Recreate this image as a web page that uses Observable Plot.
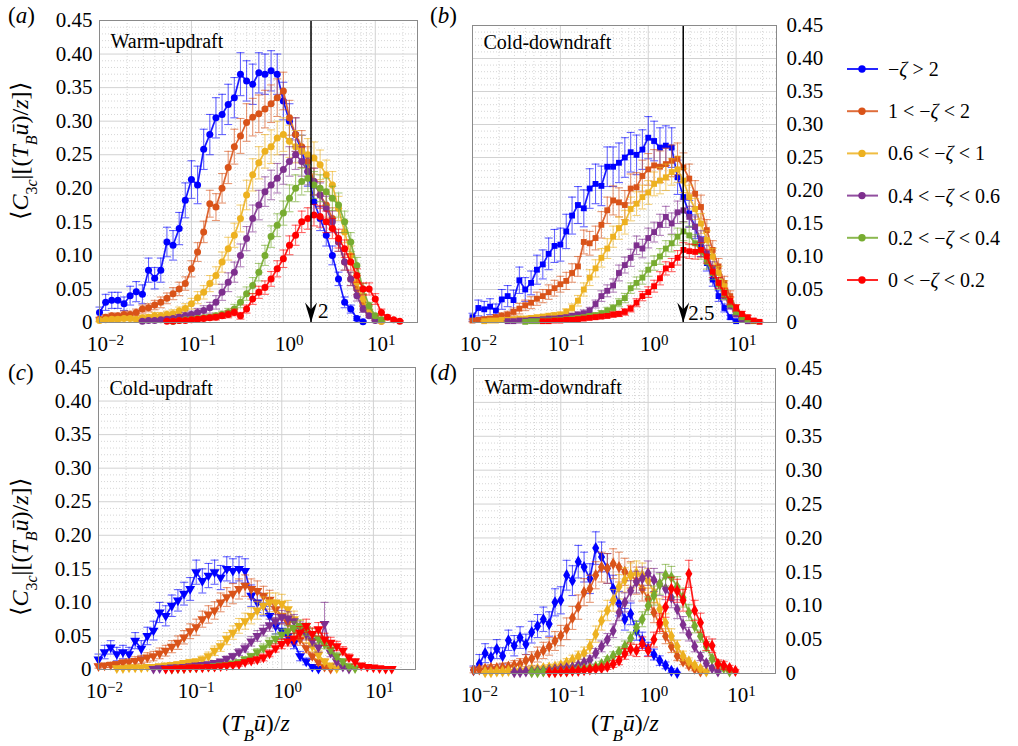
<!DOCTYPE html>
<html><head><meta charset="utf-8">
<script src="https://cdn.jsdelivr.net/npm/d3@7"></script>
<script src="https://cdn.jsdelivr.net/npm/@observablehq/plot@0.6"></script>
<style>
body{margin:0;background:#fff;overflow:hidden;}
#wrap{position:relative;width:1018px;height:746px;}
#wrap svg{position:absolute;left:0;top:0;}
</style></head><body><div id="wrap"></div>
<script>
// shared log-spaced bin centres (T_B u / z)
const xs = [0.01,0.01166,0.01359,0.01585,0.01848,0.02154,0.02512,0.02929,0.03415,0.03981,
0.04642,0.05412,0.0631,0.07356,0.08577,0.1,0.1166,0.1359,0.1585,0.1848,
0.2154,0.2512,0.2929,0.3415,0.3981,0.4642,0.5412,0.631,0.7356,0.8577,
1,1.166,1.359,1.585,1.848,2.154,2.512,2.929,3.415,3.981,
4.642,5.412,6.31,7.356,8.577,10,11.66,13.59,15.85,18.48,21.54];

const seriesLabels = ["−ζ > 2","1 < −ζ < 2","0.6 < −ζ < 1","0.4 < −ζ < 0.6","0.2 < −ζ < 0.4","0 < −ζ < 0.2"];
const seriesColors = ["#0000ff","#d95319","#edb120","#7e2f8e","#77ac30","#ff0000"];
const panelTitles = ["Warm-updraft","Cold-downdraft","Cold-updraft","Warm-downdraft"];
const panelLetters = ["a","b","c","d"];
const xMajor = [0.01,0.1,1,10];
const xMinor = [0.02,0.03,0.04,0.05,0.06,0.07,0.08,0.09,0.2,0.3,0.4,0.5,0.6,0.7,0.8,0.9,2,3,4,5,6,7,8,9,20];
const yMajor = [0,0.05,0.1,0.15,0.2,0.25,0.3,0.35,0.4,0.45];
const arrowA = [2], arrowALabel = ["2"];
const arrowB = [2.5], arrowBLabel = ["2.5"];

// (a) Warm-updraft : values, errors (x1e-3), first bin index
const wuStart = [0,0,0,7,12,11];
const wuS1 = [0.015,0.03,0.033,0.033,0.028,0.04,0.046,0.042,0.078,0.066,0.078,0.12,0.115,0.14,0.182,0.213,0.205,0.258,0.28,0.305,0.31,0.325,0.335,0.37,0.36,0.355,0.372,0.37,0.375,0.37,0.33,0.30,0.28,0.255,0.225,0.18,0.155,0.13,0.10,0.065,0.03,0.02,0.006,0.001];
const wuE1 = [8,12,12,12,10,14,15,14,18,16,18,22,22,24,26,28,28,30,30,30,30,30,30,32,30,30,30,30,30,30,28,26,25,24,22,20,18,16,14,10,8,6,3,1];
const wuS2 = [0.005,0.008,0.01,0.01,0.012,0.012,0.015,0.02,0.022,0.026,0.03,0.036,0.043,0.05,0.058,0.08,0.105,0.135,0.177,0.172,0.2,0.231,0.262,0.278,0.298,0.306,0.311,0.318,0.326,0.335,0.345,0.305,0.28,0.262,0.24,0.21,0.19,0.175,0.155,0.12,0.09,0.065,0.05,0.03,0.015,0.006,0.002];
const wuE2 = [3,4,4,4,5,5,5,6,6,7,8,8,9,10,10,12,14,16,20,20,22,24,26,26,28,28,28,28,28,28,28,26,25,24,22,20,20,18,16,14,12,10,8,6,4,2,1];
const wuS3 = [0.003,0.004,0.005,0.005,0.006,0.006,0.005,0.007,0.008,0.01,0.01,0.012,0.013,0.017,0.021,0.028,0.037,0.045,0.058,0.07,0.09,0.11,0.13,0.155,0.19,0.22,0.238,0.255,0.262,0.275,0.28,0.27,0.262,0.255,0.25,0.245,0.235,0.22,0.205,0.17,0.135,0.1,0.06,0.035,0.015,0.005,0.002];
const wuE3 = [2,2,3,3,3,3,3,4,4,5,5,5,6,6,7,8,9,10,12,13,15,17,18,20,22,24,24,25,25,25,25,24,24,24,24,24,22,22,20,18,16,14,10,8,5,2,1];
const wuS4 = [0.002,0.003,0.003,0.004,0.005,0.006,0.008,0.01,0.012,0.015,0.018,0.022,0.03,0.045,0.06,0.075,0.1,0.125,0.155,0.175,0.195,0.205,0.215,0.228,0.24,0.25,0.24,0.225,0.21,0.19,0.17,0.15,0.12,0.09,0.065,0.04,0.02,0.01,0.003];
const wuE4 = [1,2,2,2,3,3,4,5,5,6,7,8,10,12,14,15,17,18,20,22,22,22,22,22,22,22,22,20,20,18,18,16,14,12,10,8,5,3,1];
const wuS5 = [0.002,0.003,0.004,0.005,0.006,0.007,0.008,0.01,0.012,0.015,0.02,0.03,0.043,0.055,0.075,0.1,0.128,0.145,0.163,0.185,0.2,0.21,0.215,0.205,0.2,0.195,0.185,0.175,0.15,0.12,0.085,0.05,0.025,0.01,0.004];
const wuE5 = [1,2,2,2,3,3,4,4,5,6,7,8,10,12,13,15,16,17,18,20,20,20,20,20,20,20,18,18,16,14,12,8,5,3,2];
const wuS6 = [0.002,0.002,0.003,0.003,0.004,0.005,0.006,0.007,0.008,0.01,0.012,0.015,0.01,0.02,0.035,0.045,0.052,0.065,0.08,0.095,0.115,0.13,0.15,0.155,0.16,0.158,0.15,0.14,0.125,0.11,0.09,0.07,0.05,0.05,0.035,0.015,0.008,0.004,0.002];
const wuE6 = [1,1,2,2,2,3,3,3,4,4,5,5,5,6,8,9,10,11,12,13,14,15,16,16,16,16,16,15,14,13,12,10,9,9,8,5,3,2,1];

// (b) Cold-downdraft
const cdStart = [0,0,2,6,9,12];
const cdS1 = [0.008,0.022,0.02,0.024,0.018,0.035,0.04,0.034,0.064,0.05,0.06,0.08,0.088,0.104,0.116,0.118,0.138,0.162,0.178,0.173,0.203,0.21,0.207,0.236,0.236,0.242,0.25,0.258,0.254,0.262,0.28,0.275,0.265,0.268,0.265,0.22,0.19,0.165,0.145,0.115,0.09,0.065,0.04,0.022,0.008,0.002];
const cdE1 = [6,12,12,12,10,15,16,15,20,18,18,22,22,24,25,25,26,28,28,28,30,30,30,30,30,30,30,30,30,30,32,30,30,30,30,26,24,20,18,15,12,10,8,6,3,1];
const cdS2 = [0.003,0.004,0.005,0.006,0.008,0.01,0.012,0.016,0.021,0.026,0.03,0.036,0.04,0.046,0.052,0.058,0.063,0.075,0.085,0.122,0.12,0.128,0.148,0.17,0.185,0.182,0.178,0.203,0.205,0.222,0.232,0.238,0.236,0.24,0.245,0.248,0.235,0.218,0.195,0.175,0.14,0.11,0.085,0.06,0.04,0.022,0.01,0.004];
const cdE2 = [2,2,3,3,4,5,5,6,8,8,9,10,10,11,12,12,13,14,15,18,18,18,20,20,22,22,22,22,22,24,24,24,24,24,24,24,22,22,20,18,16,14,12,10,8,5,3,1];
const cdS3 = [0.002,0.003,0.003,0.004,0.004,0.005,0.006,0.006,0.007,0.008,0.009,0.01,0.011,0.012,0.016,0.022,0.033,0.05,0.068,0.082,0.098,0.112,0.13,0.143,0.152,0.172,0.18,0.19,0.197,0.21,0.215,0.22,0.228,0.232,0.215,0.19,0.172,0.15,0.125,0.1,0.075,0.055,0.032,0.015,0.006,0.002];
const cdE3 = [1,1,1,2,2,2,2,2,3,3,3,4,4,4,5,6,8,10,12,13,14,15,16,17,18,18,18,18,18,18,20,20,20,20,18,18,16,15,14,12,10,8,6,4,2,1];
const cdS4 = [0.002,0.002,0.003,0.003,0.004,0.004,0.005,0.006,0.006,0.007,0.008,0.01,0.012,0.014,0.018,0.028,0.04,0.048,0.056,0.075,0.087,0.098,0.117,0.112,0.128,0.137,0.148,0.16,0.15,0.167,0.17,0.16,0.145,0.125,0.105,0.082,0.06,0.04,0.025,0.012,0.005,0.002];
const cdE4 = [1,1,1,1,2,2,2,2,2,3,3,4,4,5,5,6,8,9,10,12,12,13,14,14,15,15,16,16,16,17,17,16,15,14,12,10,8,6,5,3,2,1];
const cdS5 = [0.001,0.002,0.002,0.003,0.003,0.004,0.004,0.005,0.006,0.007,0.008,0.01,0.011,0.014,0.018,0.022,0.03,0.037,0.052,0.06,0.068,0.08,0.09,0.1,0.112,0.12,0.13,0.138,0.132,0.12,0.108,0.092,0.075,0.058,0.042,0.028,0.016,0.008,0.004,0.002];
const cdE5 = [1,1,1,1,1,2,2,2,2,3,3,3,4,4,5,5,6,7,8,9,10,10,11,12,12,13,13,14,14,13,12,11,10,8,7,5,4,3,2,1];
const cdS6 = [0.002,0.002,0.003,0.003,0.004,0.004,0.005,0.006,0.007,0.008,0.009,0.01,0.012,0.013,0.016,0.021,0.03,0.04,0.046,0.055,0.067,0.082,0.087,0.098,0.11,0.108,0.107,0.11,0.1,0.077,0.06,0.045,0.033,0.022,0.013,0.008,0.003,0.001];
const cdE6 = [1,1,1,1,1,2,2,2,2,3,3,3,4,4,5,5,6,7,8,9,10,10,10,11,11,11,11,11,10,9,8,7,6,5,4,3,2,1];

// (c) Cold-updraft
const cuStart = [0,0,3,9,12,11];
const cuS1 = [0.015,0.026,0.033,0.023,0.026,0.023,0.043,0.031,0.05,0.058,0.085,0.08,0.095,0.103,0.113,0.12,0.145,0.132,0.14,0.145,0.137,0.15,0.147,0.15,0.147,0.11,0.1,0.095,0.08,0.065,0.058,0.05,0.04,0.02,0.012,0.004,0.001];
const cuE1 = [8,10,10,10,10,10,12,12,13,14,15,15,16,16,17,17,18,18,18,18,18,18,18,18,18,16,15,15,14,12,12,10,9,7,5,3,1];
const cuS2 = [0.005,0.006,0.007,0.008,0.01,0.011,0.013,0.015,0.018,0.02,0.024,0.028,0.034,0.04,0.048,0.057,0.063,0.075,0.082,0.088,0.1,0.108,0.113,0.12,0.125,0.12,0.117,0.11,0.104,0.09,0.08,0.07,0.06,0.045,0.032,0.02,0.011,0.004,0.001];
const cuE2 = [3,3,4,4,5,5,6,6,7,7,8,8,9,10,10,11,12,12,13,13,14,14,15,15,16,15,15,14,14,13,12,11,10,9,7,5,4,2,1];
const cuS3 = [0.002,0.002,0.003,0.003,0.003,0.004,0.004,0.005,0.006,0.007,0.008,0.01,0.011,0.012,0.015,0.02,0.028,0.035,0.046,0.055,0.065,0.072,0.08,0.088,0.095,0.1,0.1,0.098,0.09,0.075,0.062,0.05,0.035,0.022,0.012,0.006,0.002];
const cuE3 = [1,1,1,1,1,2,2,2,2,3,3,3,4,4,5,6,7,8,9,10,11,12,12,13,13,14,14,14,13,12,11,10,8,6,4,2,1];
const cuS4 = [0.001,0.002,0.002,0.003,0.003,0.004,0.005,0.006,0.007,0.008,0.01,0.012,0.016,0.02,0.026,0.032,0.042,0.05,0.058,0.066,0.072,0.078,0.076,0.072,0.062,0.053,0.043,0.033,0.068,0.025,0.012,0.004,0.001];
const cuE4 = [1,1,1,1,1,2,2,2,2,3,3,3,4,4,5,6,7,8,8,9,10,10,10,10,9,9,8,7,32,6,4,2,1];
const cuS5 = [0.001,0.002,0.002,0.003,0.003,0.004,0.004,0.005,0.006,0.007,0.009,0.011,0.015,0.02,0.026,0.032,0.04,0.046,0.052,0.057,0.062,0.065,0.06,0.053,0.046,0.038,0.03,0.02,0.012,0.005,0.002];
const cuE5 = [1,1,1,1,1,1,2,2,2,2,3,3,4,4,5,6,7,7,8,8,9,9,9,8,8,7,6,5,4,2,1];
const cuS6 = [0.001,0.001,0.002,0.002,0.003,0.003,0.003,0.004,0.004,0.005,0.006,0.007,0.008,0.011,0.013,0.015,0.018,0.024,0.032,0.038,0.042,0.046,0.055,0.065,0.053,0.06,0.045,0.04,0.035,0.028,0.018,0.012,0.006,0.004,0.003,0.002,0.001,0.001];
const cuE6 = [1,1,1,1,1,1,1,2,2,2,2,3,3,3,4,4,5,5,6,7,7,8,9,10,9,10,9,8,7,6,5,4,3,2,2,1,1,1];

// (d) Warm-downdraft
const wdStart = [0,0,2,7,10,13];
const wdS1 = [0.005,0.014,0.03,0.024,0.036,0.026,0.049,0.041,0.053,0.043,0.061,0.07,0.08,0.073,0.105,0.108,0.145,0.137,0.165,0.157,0.14,0.185,0.172,0.155,0.125,0.103,0.08,0.088,0.063,0.049,0.036,0.028,0.019,0.012,0.004,0.001];
const wdE1 = [6,14,14,14,14,12,15,15,16,15,16,17,18,18,20,20,22,22,24,22,22,24,22,22,20,18,16,16,14,12,10,8,7,5,3,1];
const wdS2 = [0.005,0.006,0.007,0.008,0.008,0.009,0.01,0.012,0.014,0.019,0.022,0.028,0.034,0.04,0.048,0.056,0.066,0.082,0.098,0.12,0.125,0.145,0.157,0.155,0.162,0.157,0.15,0.145,0.137,0.125,0.11,0.09,0.072,0.055,0.04,0.026,0.018,0.012,0.007,0.003];
const wdE2 = [4,4,5,5,5,6,6,7,8,9,10,11,12,13,14,15,16,17,18,20,20,20,22,22,22,22,20,20,20,18,16,15,13,11,9,7,5,4,3,1];
const wdS3 = [0.002,0.002,0.003,0.003,0.004,0.004,0.005,0.005,0.006,0.007,0.008,0.009,0.01,0.012,0.016,0.02,0.025,0.03,0.04,0.058,0.078,0.093,0.108,0.128,0.138,0.145,0.148,0.145,0.137,0.12,0.095,0.075,0.055,0.04,0.026,0.018,0.012,0.007,0.003];
const wdE3 = [1,1,1,1,2,2,2,2,3,3,3,4,4,5,6,7,8,9,10,12,14,15,16,18,18,18,18,18,18,16,15,13,11,9,7,5,4,3,1];
const wdS4 = [0.002,0.002,0.003,0.003,0.004,0.004,0.005,0.006,0.007,0.008,0.009,0.012,0.016,0.02,0.03,0.04,0.05,0.063,0.09,0.105,0.122,0.135,0.14,0.148,0.138,0.132,0.125,0.112,0.095,0.072,0.058,0.04,0.025,0.015,0.008,0.003];
const wdE4 = [1,1,1,1,2,2,2,2,3,3,3,4,5,6,7,8,9,10,12,14,15,16,17,18,17,17,16,15,14,12,10,8,6,4,3,1];
const wdS5 = [0.002,0.002,0.003,0.003,0.003,0.004,0.004,0.005,0.006,0.007,0.008,0.01,0.014,0.02,0.026,0.032,0.04,0.052,0.068,0.08,0.1,0.115,0.132,0.145,0.142,0.128,0.112,0.09,0.07,0.055,0.04,0.022,0.014,0.008,0.003];
const wdE5 = [1,1,1,1,1,2,2,2,2,3,3,3,4,5,6,7,8,9,10,11,13,14,15,16,16,15,14,12,10,9,7,5,4,3,1];
const wdS6 = [0.002,0.002,0.003,0.003,0.004,0.004,0.005,0.006,0.007,0.008,0.01,0.014,0.019,0.029,0.036,0.034,0.044,0.034,0.05,0.075,0.098,0.125,0.122,0.108,0.147,0.093,0.075,0.044,0.041,0.014,0.012,0.008,0.004];
const wdE6 = [1,1,1,1,2,2,2,2,3,3,4,5,6,8,9,9,10,9,11,13,15,17,17,16,20,15,14,10,10,6,6,4,2];

const SVGNS = "http://www.w3.org/2000/svg";
const capSym = {draw(ctx){ ctx.moveTo(-4,0); ctx.lineTo(4,0); }};
const headSym = {draw(ctx){ ctx.moveTo(0,0); ctx.lineTo(-6,-20); ctx.lineTo(0,-13); ctx.lineTo(6,-20); ctx.closePath(); }};
const yMinor = d3.range(1,45).map(k => k/100).filter(v => Math.round(v*100) % 5 !== 0);
const SERIF = "'Liberation Serif', 'Times New Roman', serif";

function makePanel(p) {
  const marks = [
    Plot.ruleY(yMinor, {stroke:"#d6d6d6", strokeDasharray:"1,2"}),
    Plot.ruleX(xMinor, {stroke:"#d6d6d6", strokeDasharray:"1,2"}),
    Plot.ruleY(yMajor, {stroke:"#d2d2d2"}),
    Plot.ruleX(xMajor, {stroke:"#d2d2d2"}),
    Plot.text([p.title], {frameAnchor:"top-left", dx:11, dy:p.titleDy, text:d=>d, textAnchor:"start", lineAnchor:"middle", fontSize:20, fontFamily:SERIF})
  ];
  for (let k = 0; k < 6; k++) {
    const data = p.vals[k].map((v,i) => ({x: xs[p.starts[k]+i], y: v, e: (p.errs[k][i] ?? 0)/1000}));
    const col = seriesColors[k];
    marks.push(Plot.ruleX(data, {x:"x", y1:d=>Math.max(0,d.y-d.e), y2:d=>d.y+d.e, stroke:col, strokeOpacity:0.6, strokeWidth:1.1}));
    marks.push(Plot.dot(data, {x:"x", y:d=>d.y+d.e, symbol:capSym, fill:"none", stroke:col, strokeOpacity:0.6, strokeWidth:1.1}));
    marks.push(Plot.dot(data.filter(d=>d.y-d.e>0), {x:"x", y:d=>d.y-d.e, symbol:capSym, fill:"none", stroke:col, strokeOpacity:0.6, strokeWidth:1.1}));
    marks.push(Plot.line(data, {x:"x", y:"y", stroke:col, strokeWidth:1.7, strokeOpacity:0.9}));
    marks.push(Plot.dot(data, {x:"x", y:"y", symbol:p.symbol, rotate:p.rotate, r:p.r, fill:col, stroke:"none"}));
  }
  if (p.arrow) {
    marks.push(Plot.ruleX(p.arrow, {x:d=>d, stroke:"black", strokeWidth:1.5}));
    marks.push(Plot.dot(p.arrow, {x:d=>d, frameAnchor:"bottom", symbol:headSym, fill:"black", stroke:"none"}));
    marks.push(Plot.text(p.arrow, {x:d=>d, frameAnchor:"bottom", text:(d,i)=>p.arrowLabel[i], textAnchor:"start", lineAnchor:"middle", dx:p.labelDx, dy:p.labelDy, fontSize:21, fontFamily:SERIF}));
  }
  marks.push(Plot.frame({stroke:"#8a8a8a"}));
  const svg = Plot.plot({
    width:1018, height:746,
    marginLeft:p.left, marginRight:1018-p.right, marginTop:p.top, marginBottom:746-p.bottom,
    style:{background:"transparent", overflow:"visible", fontFamily:SERIF, fontSize:"21px"},
    x:{type:"log", domain:[0.01,28.8], ticks:xMajor, tickFormat:d=>"10^"+Math.round(Math.log10(d)), tickSize:0, tickPadding:14, label:null},
    y:{domain:[0,0.45], ticks:yMajor, tickFormat:d=>d===0?"0":d.toFixed(2), tickSize:0, tickPadding:p.yAxis==="left"?7:10, label:null, axis:p.yAxis},
    marks
  });
  svg.querySelectorAll("text").forEach(t => {
    const m = /^10\^(-?\d+)$/.exec(t.textContent);
    if (!m) return;
    t.textContent = "";
    const a = document.createElementNS(SVGNS,"tspan"); a.textContent = "10"; t.appendChild(a);
    const b = document.createElementNS(SVGNS,"tspan"); b.textContent = m[1].replace("-","−");
    b.setAttribute("dy","-0.45em"); b.setAttribute("font-size","15px"); t.appendChild(b);
    t.setAttribute("dx","6");
  });
  document.getElementById("wrap").appendChild(svg);
}

makePanel({left:99, right:417, top:20, bottom:322, title:panelTitles[0], titleDy:21, symbol:"circle", rotate:0, r:3.5, yAxis:"left",
  starts:wuStart, vals:[wuS1,wuS2,wuS3,wuS4,wuS5,wuS6], errs:[wuE1,wuE2,wuE3,wuE4,wuE5,wuE6], arrow:arrowA, arrowLabel:arrowALabel, labelDx:7, labelDy:-11});
makePanel({left:472, right:776, top:25, bottom:322, title:panelTitles[1], titleDy:17, symbol:"square", rotate:0, r:3.3, yAxis:"right",
  starts:cdStart, vals:[cdS1,cdS2,cdS3,cdS4,cdS5,cdS6], errs:[cdE1,cdE2,cdE3,cdE4,cdE5,cdE6], arrow:arrowB, arrowLabel:arrowBLabel, labelDx:5, labelDy:-9});
makePanel({left:98, right:415, top:367, bottom:669, title:panelTitles[2], titleDy:21, symbol:"triangle", rotate:180, r:3.7, yAxis:"left",
  starts:cuStart, vals:[cuS1,cuS2,cuS3,cuS4,cuS5,cuS6], errs:[cuE1,cuE2,cuE3,cuE4,cuE5,cuE6]});
makePanel({left:473, right:775, top:368, bottom:673, title:panelTitles[3], titleDy:19, symbol:"diamond", rotate:0, r:3.7, yAxis:"right",
  starts:wdStart, vals:[wdS1,wdS2,wdS3,wdS4,wdS5,wdS6], errs:[wdE1,wdE2,wdE3,wdE4,wdE5,wdE6]});

// overlay: panel letters, axis titles, legend
const ov = d3.select("#wrap").append("svg").attr("width",1018).attr("height",746)
  .attr("font-family",SERIF).style("overflow","visible");
const letterPos = [[8,23],[430,23],[8,380],[430,380]];
panelLetters.forEach((l,i) => {
  const t = ov.append("text").attr("x",letterPos[i][0]).attr("y",letterPos[i][1]).attr("font-size",23);
  t.append("tspan").text("(");
  t.append("tspan").attr("font-style","italic").text(l);
  t.append("tspan").text(")");
});
function yTitle(cx, cy) {
  const t = ov.append("text").attr("transform",`translate(${cx},${cy}) rotate(-90)`).attr("text-anchor","middle").attr("font-size",24);
  t.append("tspan").text("⟨");
  t.append("tspan").attr("font-style","italic").text("C");
  t.append("tspan").attr("baseline-shift","sub").attr("font-size",16).text("3");
  t.append("tspan").attr("baseline-shift","sub").attr("font-size",16).attr("font-style","italic").text("c");
  t.append("tspan").text("|[(");
  t.append("tspan").attr("font-style","italic").text("T");
  t.append("tspan").attr("baseline-shift","sub").attr("font-size",16).attr("font-style","italic").text("B");
  t.append("tspan").attr("font-style","italic").text("ū");
  t.append("tspan").text(")/");
  t.append("tspan").attr("font-style","italic").text("z");
  t.append("tspan").text("]⟩");
}
yTitle(28,151); yTitle(28,547);
function xTitle(cx, cy) {
  const t = ov.append("text").attr("x",cx).attr("y",cy).attr("text-anchor","middle").attr("font-size",24);
  t.append("tspan").text("(");
  t.append("tspan").attr("font-style","italic").text("T");
  t.append("tspan").attr("baseline-shift","sub").attr("font-size",17).attr("font-style","italic").text("B");
  t.append("tspan").attr("font-style","italic").text("ū");
  t.append("tspan").text(")/");
  t.append("tspan").attr("font-style","italic").text("z");
}
xTitle(256,731); xTitle(625,731);
seriesLabels.forEach((lab,i) => {
  const y = 69 + i*42.2;
  ov.append("line").attr("x1",847).attr("x2",878).attr("y1",y).attr("y2",y).attr("stroke",seriesColors[i]).attr("stroke-width",2).attr("stroke-opacity",0.85);
  ov.append("circle").attr("cx",862).attr("cy",y).attr("r",3.7).attr("fill",seriesColors[i]);
  const t = ov.append("text").attr("x",888).attr("y",y+7).attr("font-size",20);
  lab.split("ζ").forEach((part,j) => {
    if (j>0) t.append("tspan").attr("font-style","italic").text("ζ");
    if (part) t.append("tspan").text(part);
  });
});
</script></body></html>
